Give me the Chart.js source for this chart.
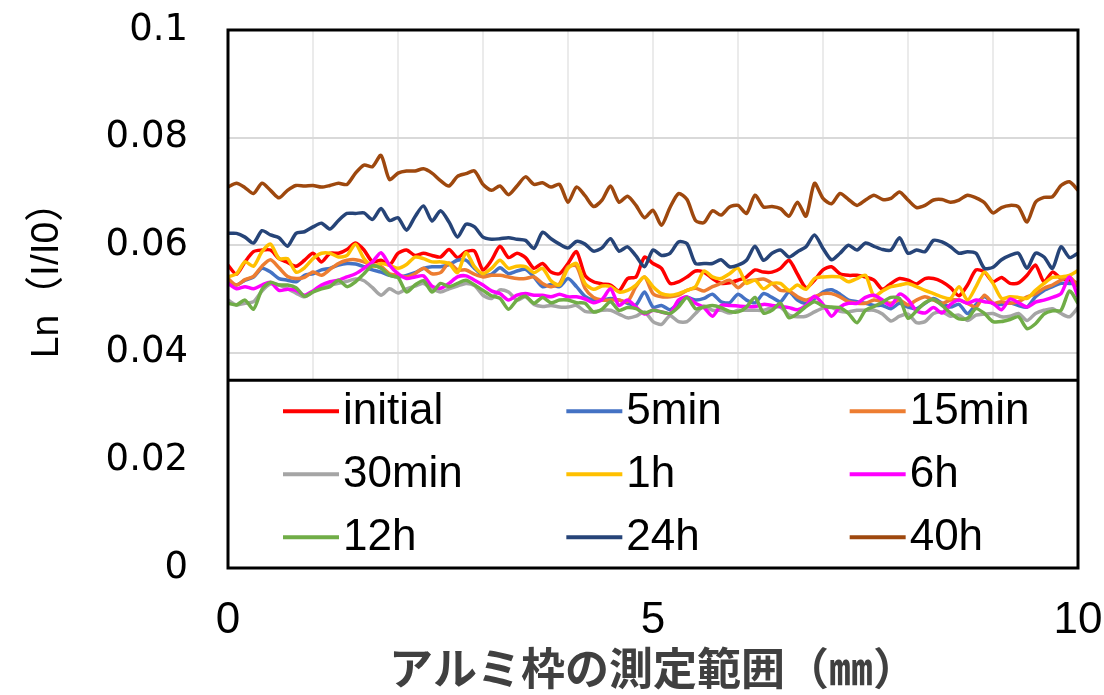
<!DOCTYPE html>
<html>
<head>
<meta charset="utf-8">
<script src="https://cdn.jsdelivr.net/npm/chart.js@4"></script>
<style>
  html, body { margin: 0; padding: 0; background: #fff; }
  canvas { display: block; }
</style>
</head>
<body>
<canvas id="chart" width="1104" height="695"></canvas>
<script>
// measuring position along the aluminium frame (mm)
const positionsMm = [
  0, 0.1, 0.2, 0.3, 0.4, 0.5, 0.6, 0.7, 0.8, 0.9,
  1, 1.1, 1.2, 1.3, 1.4, 1.5, 1.6, 1.7, 1.8, 1.9,
  2, 2.1, 2.2, 2.3, 2.4, 2.5, 2.6, 2.7, 2.8, 2.9,
  3, 3.1, 3.2, 3.3, 3.4, 3.5, 3.6, 3.7, 3.8, 3.9,
  4, 4.1, 4.2, 4.3, 4.4, 4.5, 4.6, 4.7, 4.8, 4.9,
  5, 5.1, 5.2, 5.3, 5.4, 5.5, 5.6, 5.7, 5.8, 5.9,
  6, 6.1, 6.2, 6.3, 6.4, 6.5, 6.6, 6.7, 6.8, 6.9,
  7, 7.1, 7.2, 7.3, 7.4, 7.5, 7.6, 7.7, 7.8, 7.9,
  8, 8.1, 8.2, 8.3, 8.4, 8.5, 8.6, 8.7, 8.8, 8.9,
  9, 9.1, 9.2, 9.3, 9.4, 9.5, 9.6, 9.7, 9.8, 9.9, 10
];

const seriesNames = ["initial", "5min", "15min", "30min", "1h", "6h", "12h", "24h", "40h"];
const seriesColors = ["#FF0000", "#4472C4", "#ED7D31", "#A5A5A5", "#FFC000", "#FF00FF", "#70AD47", "#264478", "#9E480E"];

const initial = [
  0.0563,0.0546,0.0569,0.0588,0.0591,0.0591,0.0575,0.0568,0.0561,0.0572,
  0.0585,0.0569,0.0585,0.0585,0.0592,0.0604,0.0591,0.0569,0.0572,0.0563,
  0.0585,0.0591,0.0581,0.0585,0.0581,0.0578,0.0592,0.0577,0.0588,0.0589,
  0.0554,0.0572,0.0598,0.0577,0.0585,0.0577,0.0557,0.0566,0.0550,0.0547,
  0.0566,0.0588,0.0544,0.0532,0.0528,0.0526,0.0515,0.0538,0.0541,0.0578,
  0.0566,0.0557,0.0529,0.0532,0.0541,0.0552,0.0550,0.0538,0.0529,0.0530,
  0.0535,0.0541,0.0554,0.0550,0.0550,0.0557,0.0572,0.0546,0.0521,0.0535,
  0.0554,0.0560,0.0547,0.0544,0.0544,0.0541,0.0535,0.0518,0.0529,0.0538,
  0.0535,0.0528,0.0538,0.0538,0.0532,0.0521,0.0506,0.0526,0.0554,0.0550,
  0.0532,0.0540,0.0529,0.0530,0.0544,0.0563,0.0532,0.0550,0.0538,0.0535,0.0529
];
const min5 = [
  0.0529,0.0526,0.0535,0.0541,0.0557,0.0550,0.0538,0.0535,0.0532,0.0544,
  0.0547,0.0554,0.0557,0.0563,0.0566,0.0565,0.0560,0.0554,0.0550,0.0544,
  0.0541,0.0544,0.0549,0.0557,0.0560,0.0560,0.0564,0.0572,0.0572,0.0557,
  0.0544,0.0546,0.0558,0.0547,0.0552,0.0555,0.0541,0.0523,0.0527,0.0523,
  0.0538,0.0523,0.0505,0.0498,0.0498,0.0501,0.0498,0.0492,0.0489,0.0513,
  0.0485,0.0488,0.0480,0.0492,0.0503,0.0498,0.0501,0.0509,0.0495,0.0493,
  0.0509,0.0498,0.0493,0.0510,0.0503,0.0495,0.0513,0.0498,0.0492,0.0501,
  0.0513,0.0517,0.0509,0.0498,0.0495,0.0492,0.0488,0.0488,0.0482,0.0492,
  0.0485,0.0482,0.0492,0.0501,0.0492,0.0485,0.0490,0.0473,0.0490,0.0504,
  0.0492,0.0490,0.0493,0.0488,0.0485,0.0504,0.0516,0.0523,0.0529,0.0529,0.0529
];
const min15 = [
  0.0538,0.0526,0.0536,0.0542,0.0561,0.0573,0.0558,0.0542,0.0538,0.0540,
  0.0550,0.0544,0.0555,0.0566,0.0572,0.0573,0.0569,0.0561,0.0560,0.0547,
  0.0544,0.0541,0.0547,0.0557,0.0547,0.0549,0.0567,0.0554,0.0554,0.0546,
  0.0541,0.0544,0.0544,0.0541,0.0538,0.0538,0.0541,0.0529,0.0523,0.0528,
  0.0560,0.0561,0.0520,0.0503,0.0498,0.0498,0.0498,0.0495,0.0523,0.0541,
  0.0510,0.0504,0.0504,0.0507,0.0516,0.0520,0.0515,0.0523,0.0529,0.0535,
  0.0521,0.0533,0.0535,0.0537,0.0529,0.0516,0.0515,0.0504,0.0498,0.0504,
  0.0510,0.0510,0.0504,0.0495,0.0492,0.0492,0.0498,0.0495,0.0492,0.0498,
  0.0489,0.0498,0.0504,0.0498,0.0492,0.0498,0.0498,0.0492,0.0485,0.0507,
  0.0492,0.0495,0.0492,0.0495,0.0504,0.0510,0.0520,0.0526,0.0535,0.0541,0.0523
];
const min30 = [
  0.0498,0.0489,0.0492,0.0495,0.0515,0.0528,0.0526,0.0519,0.0511,0.0504,
  0.0513,0.0523,0.0526,0.0529,0.0533,0.0537,0.0534,0.0521,0.0507,0.0519,
  0.0511,0.0519,0.0524,0.0529,0.0519,0.0513,0.0519,0.0524,0.0529,0.0525,
  0.0507,0.0501,0.0517,0.0513,0.0498,0.0504,0.0490,0.0486,0.0488,0.0485,
  0.0485,0.0488,0.0477,0.0476,0.0479,0.0479,0.0472,0.0465,0.0468,0.0476,
  0.0458,0.0453,0.0469,0.0458,0.0458,0.0473,0.0487,0.0479,0.0479,0.0474,
  0.0479,0.0479,0.0479,0.0479,0.0484,0.0485,0.0470,0.0467,0.0468,0.0476,
  0.0483,0.0484,0.0477,0.0476,0.0479,0.0479,0.0479,0.0472,0.0459,0.0468,
  0.0472,0.0456,0.0458,0.0473,0.0476,0.0468,0.0470,0.0460,0.0470,0.0472,
  0.0473,0.0467,0.0468,0.0473,0.0460,0.0473,0.0479,0.0482,0.0473,0.0467,0.0484
];
const h1 = [
  0.0541,0.0547,0.0569,0.0561,0.0588,0.0602,0.0575,0.0575,0.0550,0.0558,
  0.0575,0.0585,0.0585,0.0578,0.0581,0.0602,0.0575,0.0561,0.0566,0.0563,
  0.0557,0.0564,0.0578,0.0575,0.0569,0.0569,0.0566,0.0549,0.0586,0.0560,
  0.0547,0.0557,0.0572,0.0557,0.0561,0.0560,0.0549,0.0557,0.0534,0.0526,
  0.0557,0.0566,0.0529,0.0518,0.0524,0.0523,0.0513,0.0516,0.0526,0.0541,
  0.0523,0.0510,0.0507,0.0510,0.0516,0.0523,0.0552,0.0541,0.0538,0.0547,
  0.0557,0.0529,0.0535,0.0519,0.0529,0.0529,0.0516,0.0526,0.0518,0.0538,
  0.0541,0.0542,0.0541,0.0532,0.0538,0.0544,0.0505,0.0515,0.0523,0.0526,
  0.0529,0.0523,0.0516,0.0510,0.0504,0.0501,0.0523,0.0498,0.0523,0.0550,
  0.0529,0.0501,0.0504,0.0503,0.0501,0.0516,0.0529,0.0540,0.0541,0.0544,0.0553
];
const h6 = [
  0.0529,0.0519,0.0523,0.0519,0.0526,0.0531,0.0516,0.0518,0.0516,0.0507,
  0.0515,0.0526,0.0532,0.0535,0.0541,0.0547,0.0557,0.0569,0.0586,0.0563,
  0.0547,0.0538,0.0541,0.0543,0.0524,0.0520,0.0529,0.0541,0.0543,0.0535,
  0.0526,0.0515,0.0510,0.0498,0.0507,0.0510,0.0507,0.0507,0.0504,0.0509,
  0.0504,0.0504,0.0500,0.0493,0.0499,0.0519,0.0488,0.0498,0.0485,0.0472,
  0.0479,0.0476,0.0473,0.0498,0.0504,0.0492,0.0484,0.0468,0.0488,0.0488,
  0.0487,0.0486,0.0486,0.0490,0.0488,0.0486,0.0484,0.0480,0.0488,0.0505,
  0.0490,0.0468,0.0485,0.0492,0.0492,0.0503,0.0507,0.0498,0.0488,0.0509,
  0.0499,0.0478,0.0474,0.0484,0.0474,0.0490,0.0498,0.0492,0.0498,0.0495,
  0.0492,0.0480,0.0500,0.0493,0.0485,0.0494,0.0498,0.0503,0.0510,0.0541,0.0504
];
const h12 = [
  0.0492,0.0489,0.0498,0.0481,0.0518,0.0531,0.0526,0.0526,0.0521,0.0505,
  0.0513,0.0519,0.0523,0.0535,0.0523,0.0532,0.0547,0.0562,0.0557,0.0544,
  0.0540,0.0513,0.0526,0.0534,0.0513,0.0529,0.0523,0.0529,0.0535,0.0526,
  0.0516,0.0506,0.0501,0.0481,0.0498,0.0505,0.0492,0.0503,0.0493,0.0498,
  0.0498,0.0493,0.0492,0.0476,0.0481,0.0495,0.0479,0.0484,0.0482,0.0474,
  0.0479,0.0476,0.0473,0.0485,0.0503,0.0482,0.0485,0.0488,0.0484,0.0477,
  0.0476,0.0485,0.0503,0.0474,0.0479,0.0492,0.0465,0.0473,0.0486,0.0495,
  0.0487,0.0485,0.0484,0.0473,0.0456,0.0479,0.0486,0.0494,0.0503,0.0501,
  0.0464,0.0478,0.0493,0.0499,0.0488,0.0474,0.0463,0.0464,0.0482,0.0473,
  0.0458,0.0458,0.0462,0.0467,0.0445,0.0454,0.0472,0.0478,0.0479,0.0515,0.0492
];
const h24 = [
  0.0622,0.0622,0.0615,0.0604,0.0627,0.0619,0.0614,0.0598,0.0622,0.0625,
  0.0634,0.0641,0.0630,0.0646,0.0659,0.0659,0.0660,0.0648,0.0668,0.0646,
  0.0651,0.0628,0.0653,0.0673,0.0645,0.0664,0.0643,0.0615,0.0639,0.0634,
  0.0615,0.0611,0.0612,0.0614,0.0611,0.0609,0.0594,0.0624,0.0612,0.0602,
  0.0595,0.0607,0.0602,0.0589,0.0595,0.0612,0.0589,0.0597,0.0580,0.0560,
  0.0591,0.0581,0.0585,0.0606,0.0603,0.0566,0.0566,0.0566,0.0573,0.0560,
  0.0563,0.0572,0.0598,0.0572,0.0585,0.0591,0.0578,0.0588,0.0597,0.0619,
  0.0594,0.0573,0.0585,0.0600,0.0591,0.0604,0.0598,0.0592,0.0591,0.0614,
  0.0585,0.0591,0.0588,0.0609,0.0606,0.0597,0.0585,0.0588,0.0585,0.0557,
  0.0559,0.0573,0.0581,0.0585,0.0557,0.0585,0.0578,0.0557,0.0597,0.0577,0.0585
];
const h40 = [
  0.0708,0.0715,0.0707,0.0696,0.0715,0.0702,0.0688,0.0702,0.0711,0.0710,
  0.0711,0.0708,0.0711,0.0715,0.0713,0.0734,0.0749,0.0746,0.0767,0.0722,
  0.0734,0.0738,0.0738,0.0742,0.0734,0.0720,0.0710,0.0728,0.0733,0.0738,
  0.0713,0.0702,0.0710,0.0694,0.0710,0.0727,0.0713,0.0716,0.0708,0.0713,
  0.0680,0.0708,0.0692,0.0672,0.0684,0.0710,0.0680,0.0691,0.0674,0.0651,
  0.0665,0.0637,0.0670,0.0696,0.0685,0.0646,0.0642,0.0664,0.0656,0.0671,
  0.0674,0.0659,0.0693,0.0671,0.0672,0.0668,0.0654,0.0680,0.0654,0.0715,
  0.0687,0.0677,0.0696,0.0685,0.0674,0.0684,0.0693,0.0685,0.0687,0.0699,
  0.0684,0.0670,0.0674,0.0684,0.0685,0.0680,0.0684,0.0693,0.0688,0.0679,
  0.0660,0.0670,0.0674,0.0671,0.0643,0.0680,0.0689,0.0690,0.0711,0.0718,0.0702
];

const allSeries = [initial, min5, min15, min30, h1, h6, h12, h24, h40];
const yTicks = [0, 0.02, 0.04, 0.06, 0.08, 0.1];
const xTickLabels = [0, 5, 10];
const yTitle = 'Ln（I/I0）';

const datasets = allSeries.map((vals, i) => ({
  label: seriesNames[i],
  data: vals.map((v, j) => ({ x: positionsMm[j], y: v })),
  borderColor: seriesColors[i],
  backgroundColor: seriesColors[i],
  borderWidth: 3.5,
  pointRadius: 0,
  tension: 0.25,
  fill: false,
  // later series on top, like the original
  order: allSeries.length - 1 - i
}));

// legend box sitting in the lower part of the plot + black frame
const legendBox = {
  id: 'legendBox',
  afterDatasetsDraw(chart) {
    const { ctx, chartArea: a } = chart;
    const top = a.top + a.height * 0.651;
    ctx.save();
    ctx.fillStyle = '#fff';
    ctx.fillRect(a.left, top, a.width, a.bottom - top);
    ctx.strokeStyle = '#000';
    ctx.lineWidth = 3;
    ctx.beginPath();
    ctx.moveTo(a.left, top);
    ctx.lineTo(a.right, top);
    ctx.stroke();

    ctx.font = '44px "Liberation Sans", Arial, sans-serif';
    ctx.textBaseline = 'middle';
    ctx.textAlign = 'left';
    const colW = a.width / 3;
    chart.data.datasets.forEach((ds, i) => {
      const col = i % 3, row = Math.floor(i / 3);
      const x0 = a.left + 55 + col * colW;
      const y = top + 31 + row * 63;
      ctx.strokeStyle = ds.borderColor;
      ctx.lineWidth = 4;
      ctx.beginPath();
      ctx.moveTo(x0, y);
      ctx.lineTo(x0 + 56, y);
      ctx.stroke();
      ctx.fillStyle = '#000';
      ctx.fillText(ds.label, x0 + 60, y + 1);
    });

    ctx.strokeStyle = '#000';
    ctx.lineWidth = 3;
    ctx.strokeRect(a.left, a.top, a.width, a.height);
    ctx.restore();
  }
};

// y axis title, a bit above the middle of the plot as in the original
const yTitlePlugin = {
  id: 'yTitle',
  afterDraw(chart) {
    const { ctx, chartArea: a } = chart;
    ctx.save();
    ctx.translate(47, a.top + a.height * 0.447);
    ctx.rotate(-Math.PI / 2);
    ctx.font = '39px "Liberation Sans", "Noto Sans CJK JP", sans-serif';
    ctx.fillStyle = '#000';
    ctx.textAlign = 'center';
    ctx.textBaseline = 'middle';
    ctx.fillText(yTitle, 0, 0);
    ctx.restore();
  }
};

new Chart(document.getElementById('chart'), {
  type: 'line',
  data: { datasets: datasets },
  plugins: [legendBox, yTitlePlugin],
  options: {
    responsive: false,
    animation: false,
    layout: { padding: { top: 30, right: 26, left: 0, bottom: 0 } },
    plugins: { legend: { display: false }, tooltip: { enabled: false } },
    scales: {
      x: {
        type: 'linear',
        min: 0,
        max: 10,
        afterFit: (s) => {
          s.height = 127;
          s.paddingLeft = 0; s.paddingRight = 0; s.paddingTop = 0; s.paddingBottom = 0;
        },
        grid: { color: '#ebebeb', lineWidth: 2, drawTicks: false },
        border: { display: false },
        ticks: {
          stepSize: 1,
          padding: 26,
          maxRotation: 0,
          autoSkip: false,
          color: '#000',
          font: { family: '"Liberation Sans", Arial, sans-serif', size: 44 },
          callback: (v) => xTickLabels.includes(v) ? String(v) : ''
        },
        title: {
          display: true,
          text: 'アルミ枠の測定範囲（㎜）',
          color: '#404040',
          padding: { top: 0, bottom: 0 },
          font: { family: '"Noto Sans CJK JP", sans-serif', size: 44, weight: 'bold' }
        }
      },
      y: {
        min: 0,
        max: 0.1,
        afterFit: (s) => {
          s.width = 228;
          s.paddingLeft = 0; s.paddingRight = 0; s.paddingTop = 0; s.paddingBottom = 0;
        },
        afterBuildTicks: (s) => { s.ticks = yTicks.map(v => ({ value: v })); },
        grid: { color: '#d9d9d9', lineWidth: 2, drawTicks: false },
        border: { display: false },
        ticks: {
          padding: 40,
          color: '#000',
          font: { family: '"DejaVu Sans", sans-serif', size: 37 },
          callback: (v) => String(+v.toFixed(2))
        }
      }
    }
  }
});
</script>
</body>
</html>
